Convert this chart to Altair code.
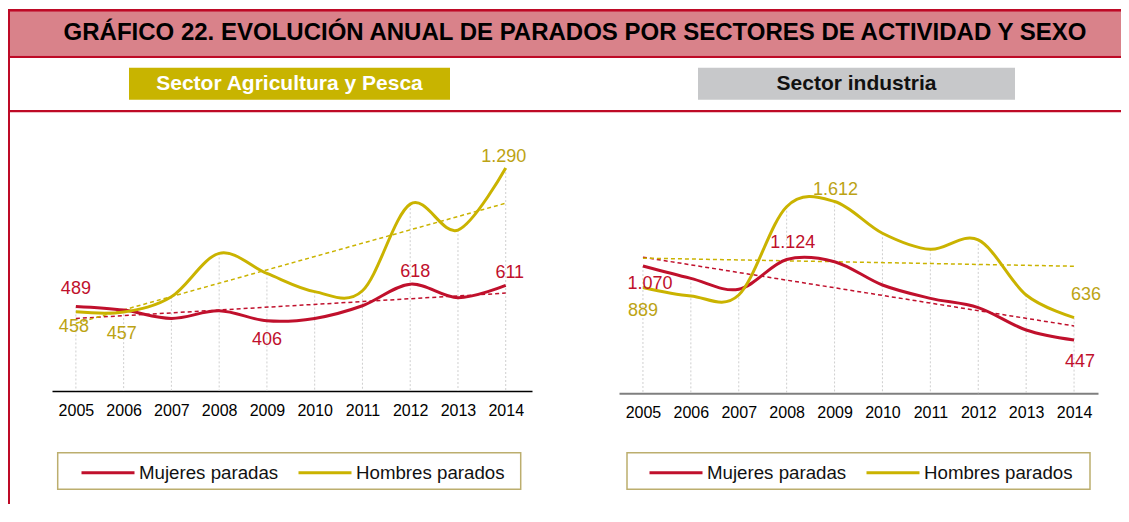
import altair as alt
import pandas as pd

# ---------------- data ----------------
years = [2005, 2006, 2007, 2008, 2009, 2010, 2011, 2012, 2013, 2014]
series_names = ["Mujeres paradas", "Hombres parados"]

agri_mujeres = [489, 468, 420, 464, 406, 420, 493, 618, 540, 611]
agri_hombres = [458, 457, 545, 796, 680, 575, 580, 1081, 931, 1290]

ind_mujeres = [1070, 966, 874, 1124, 1106, 910, 798, 720, 532, 447]
ind_hombres = [889, 818, 826, 1568, 1612, 1345, 1210, 1289, 826, 636]

title_text = "GRÁFICO 22. EVOLUCIÓN ANUAL DE PARADOS POR SECTORES DE ACTIVIDAD Y SEXO"
panel_titles = ["Sector Agricultura y Pesca", "Sector industria"]

# points that carry a value label (serie, year)
agri_labelled = [("Mujeres paradas", 2005), ("Mujeres paradas", 2009), ("Mujeres paradas", 2012),
                 ("Mujeres paradas", 2014), ("Hombres parados", 2005), ("Hombres parados", 2006),
                 ("Hombres parados", 2014)]
ind_labelled = [("Mujeres paradas", 2005), ("Mujeres paradas", 2008), ("Mujeres paradas", 2014),
                ("Hombres parados", 2005), ("Hombres parados", 2009), ("Hombres parados", 2014)]

# ---------------- styling ----------------
FONT = "Liberation Sans"
FRAME = "#BE0A26"
PINK = "#D9828A"
YELLOW_BOX = "#C8B400"
GRAY_BOX = "#C7C8CA"
MUJ = "#C0102C"
HOM = "#CAB300"
MUJ_TXT = "#C0102C"
HOM_TXT = "#BCA314"
LEG_BOX = "#BCAE6E"

W, H = 1113, 496

# label offsets (dx, dy) in pixels
agri_offsets = [(0, -17), (0, 19), (5, -12), (4, -12), (-2, 15), (-2, 22), (-2, -11)]
ind_offsets = [(7, 18), (6, -17), (6, 22), (0, 23), (1, -11), (12, -23)]


def long_df(muj, hom):
    rows = []
    for name, vals in zip(series_names, [muj, hom]):
        for a, v in zip(years, vals):
            rows.append({"anio": a, "serie": name, "valor": v})
    return pd.DataFrame(rows)


def panel(df, xdom, xrange, ydom, yrange, axis_off, dom_color, dom_width,
          leg_x, leg_y, labelled, offsets):
    xs = alt.Scale(domain=xdom, range=xrange, zero=False, nice=False)
    ys = alt.Scale(domain=ydom, range=yrange, zero=False, nice=False)
    cs = alt.Scale(domain=series_names, range=[MUJ, HOM])
    axis = alt.Axis(values=years, format="d", orient="bottom", offset=axis_off,
                    title=None, ticks=False, grid=False, labelFontSize=16,
                    labelColor="black", labelFont=FONT, labelPadding=11,
                    domainColor=dom_color, domainWidth=dom_width, labelFlush=False)
    legend = alt.Legend(orient="none", legendX=leg_x, legendY=leg_y, direction="horizontal",
                        title=None, symbolType="stroke", symbolSize=2809, symbolStrokeWidth=3,
                        labelFontSize=18.7, labelFont=FONT, labelColor="#111111", labelOffset=3,
                        columnPadding=13, labelLimit=300)
    base = alt.Chart(df)

    drops = base.transform_aggregate(
        vmax="max(valor)", groupby=["anio"]
    ).mark_rule(color="#CFCFCF", strokeDash=[2, 2], strokeWidth=1).encode(
        x=alt.X("anio:Q", scale=xs, axis=axis),
        y=alt.Y("vmax:Q", scale=ys, axis=None),
        y2=alt.datum(0),
    )

    trend = base.transform_regression(
        "anio", "valor", groupby=["serie"]
    ).mark_line(strokeDash=[4, 3], strokeWidth=1.5).encode(
        x=alt.X("anio:Q", scale=xs, axis=None),
        y=alt.Y("valor:Q", scale=ys, axis=None),
        color=alt.Color("serie:N", scale=cs, legend=None),
        detail="serie:N",
    )

    lines = base.mark_line(interpolate="cardinal", strokeWidth=3).encode(
        x=alt.X("anio:Q", scale=xs, axis=None),
        y=alt.Y("valor:Q", scale=ys, axis=None),
        color=alt.Color("serie:N", scale=cs, legend=legend, sort=series_names),
        order=alt.Order("anio:Q"),
    )

    labels = []
    for (serie, anio), (dx, dy) in zip(labelled, offsets):
        col = MUJ_TXT if serie == series_names[0] else HOM_TXT
        labels.append(
            base.transform_filter(
                (alt.datum.serie == serie) & (alt.datum.anio == anio)
            ).transform_calculate(
                etiqueta="replace(format(datum.valor, ','), ',', '.')"
            ).mark_text(fontSize=18, font=FONT, color=col, dx=dx, dy=dy,
                        baseline="middle", align="center").encode(
                x=alt.X("anio:Q", scale=xs, axis=None),
                y=alt.Y("valor:Q", scale=ys, axis=None),
                text="etiqueta:N",
            )
        )
    return [drops, trend, lines] + labels


agri = panel(long_df(agri_mujeres, agri_hombres),
             [2004.5, 2014.55], [44, 524], [0, 1400], [383, 141.0],
             383 - H, "#000000", 1.5, 72, 436.5, agri_labelled, agri_offsets)
ind = panel(long_df(ind_mujeres, ind_hombres),
            [2004.5, 2014.5], [611, 1090], [0, 1800], [385.3, 171.1],
            385.3 - H, "#7F7F7F", 2, 640, 436.5, ind_labelled, ind_offsets)

# ---------------- decorations ----------------
one = pd.DataFrame({"k": [0]})


def box(x, x2, y, y2, **kw):
    return alt.Chart(one).mark_rect(**kw).encode(
        x=alt.value(x), x2=alt.value(x2), y=alt.value(y), y2=alt.value(y2))


def label(x, y, text, **kw):
    return alt.Chart(one).mark_text(font=FONT, baseline="middle", align="center", **kw).encode(
        x=alt.value(x), y=alt.value(y), text=alt.value(text))


decor = [
    box(0, W, 3.7, 47.7, color=PINK),
    box(0, W, 1, 3.7, color=FRAME),
    box(0, W, 47.7, 50, color=FRAME),
    box(0, W, 102, 104.3, color=FRAME),
    box(0, 2, 1, H, color=FRAME),
    label(567, 24.5, title_text, fontSize=24, fontWeight="bold", color="#000000"),
    box(121, 442, 59.7, 91.7, color=YELLOW_BOX),
    box(690, 1007, 59.7, 91.7, color=GRAY_BOX),
    label(281.5, 75.7, panel_titles[0], fontSize=21, fontWeight="bold", color="#FFFFFF"),
    label(848.5, 75.7, panel_titles[1], fontSize=21, fontWeight="bold", color="#111111"),
    box(49.7, 512.7, 444.7, 481.3, fill="white", stroke=LEG_BOX, strokeWidth=1.5),
    box(619, 1082, 444.7, 481.3, fill="white", stroke=LEG_BOX, strokeWidth=1.5),
]

chart = alt.layer(*decor, *agri, *ind).resolve_scale(
    x="independent", y="independent", color="independent"
).properties(
    width=W, height=H, padding=0, autosize=alt.AutoSizeParams(type="none")
).configure(font=FONT).configure_view(strokeWidth=0)

chart.save("out.html", embed_options={"renderer": "svg", "actions": False})
